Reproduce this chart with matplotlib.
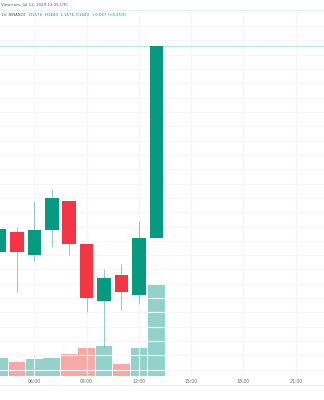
import matplotlib.pyplot as plt
from matplotlib.lines import Line2D
import numpy as np

# hourly candles, Jul 12 2024 (hour of day)
hours = [4, 5, 6, 7, 8, 9, 10, 11, 12, 13]
opens = [1.5711, 1.5781, 1.5701, 1.5788, 1.5889, 1.5739, 1.5540, 1.5631, 1.5561, 1.5760]
highs = [1.5795, 1.5798, 1.5889, 1.5931, 1.5889, 1.5739, 1.5652, 1.5669, 1.5819, 1.6430]
lows = [1.5705, 1.5571, 1.5680, 1.5729, 1.5701, 1.5502, 1.5380, 1.5509, 1.5530, 1.5760]
closes = [1.5791, 1.5711, 1.5788, 1.5900, 1.5739, 1.5551, 1.5620, 1.5571, 1.5760, 1.6430]
volumes = [1.8, 1.4, 1.7, 1.8, 2.2, 2.8, 3.0, 1.2, 2.8, 9.1]

tick_hours = [6, 9, 12, 15, 18, 21]
tick_labels = ["06:00", "09:00", "12:00", "15:00", "18:00", "21:00"]
last_price = 1.643

up_col = "#089981"
down_col = "#f23645"
up_vol = "#93d2ca"
down_vol = "#f7a9a7"
grid_col = "#f5f6f8"
gray = "#555555"

fig = plt.figure(figsize=(3.24, 4.0), dpi=100)
rect = [0, 24 / 400, 1, 366 / 400]

# volume pane (behind)
axv = fig.add_axes(rect)
vcols = [up_vol if c >= o else down_vol for o, c in zip(opens, closes)]
axv.bar(hours, volumes, width=0.96, color=vcols, edgecolor="none")
axv.set_ylim(0, 36.6)
axv.set_xlim(4.03, 22.62)
axv.axis("off")

# price pane
ax = fig.add_axes(rect, sharex=axv)
ax.patch.set_alpha(0)
ax.set_ylim(1.5278, 1.6556)
ax.set_yticks(np.arange(1.530, 1.656, 0.005))
ax.set_xticks(tick_hours)
ax.set_xticklabels(tick_labels)
ax.grid(True, color=grid_col, lw=0.8)
ax.set_axisbelow(True)
ax.tick_params(axis="x", length=0, pad=2.2, labelsize=3.3, colors="#6a6d78")
ax.tick_params(axis="y", length=0, labelleft=False)
for s in ["left", "right", "bottom"]:
    ax.spines[s].set_visible(False)
ax.spines["top"].set_color("#eceef2")
ax.spines["top"].set_linewidth(0.8)

for h, o, hi, lo, c in zip(hours, opens, highs, lows, closes):
    col = up_col if c >= o else down_col
    ax.vlines(h, lo, hi, color=col, lw=0.8, alpha=0.45, zorder=3)
    ax.bar(h, c - o, bottom=o, width=0.78, color=col, edgecolor="none", zorder=4)

ax.axhline(last_price, color="#b9e6df", lw=0.9, zorder=2)

# time scale border
fig.add_artist(Line2D([0, 1], [1 - 385 / 400] * 2, color="#eceef2", lw=0.8))

# header text
fig.text(1 / 324, 1 - 5 / 400, "View.com, Jul 12, 2024 13:25 UTC",
         fontsize=2.9, color=gray, va="center", ha="left")

y2 = 1 - 15 / 400
parts = [("1h, BINANCE", gray, 2.5),
         ("O", gray, 0.3), ("1.576", up_col, 1.8),
         ("H", gray, 0.3), ("1.643", up_col, 1.8),
         ("L", gray, 0.3), ("1.576", up_col, 1.8),
         ("C", gray, 0.3), ("1.643", up_col, 1.8),
         ("+0.067 (+4.25%)", up_col, 0)]
renderer = fig.canvas.get_renderer()
x = 1.0
for t, c, gap in parts:
    txt = fig.text(x / 324, y2, t, fontsize=2.8, color=c, va="center", ha="left")
    w = txt.get_window_extent(renderer).width
    x += w + gap

fig.savefig("out.png", dpi=100, facecolor="white")
